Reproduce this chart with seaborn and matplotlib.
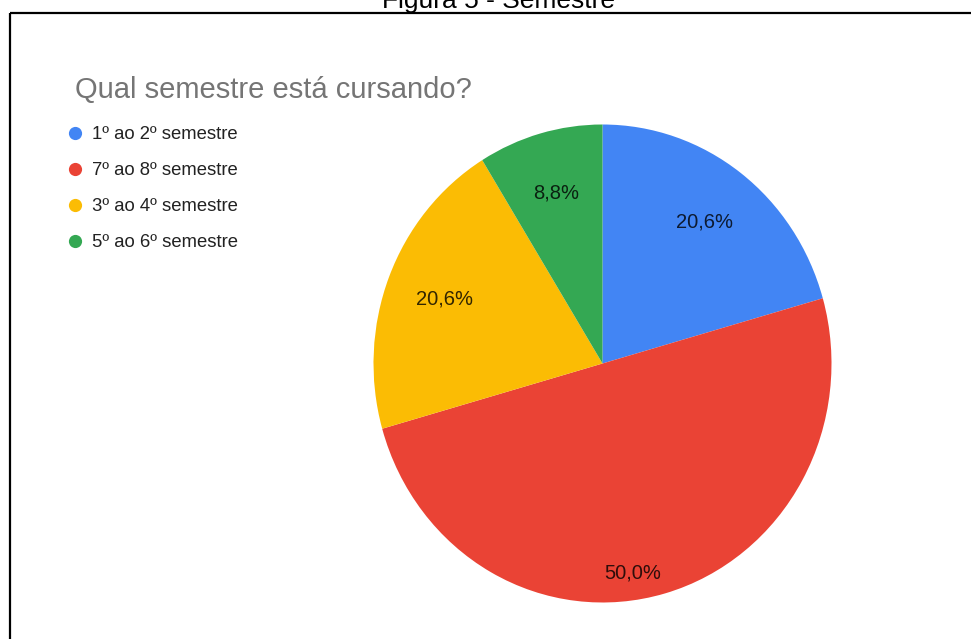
import matplotlib
matplotlib.use("Agg")
import matplotlib.pyplot as plt
from matplotlib.lines import Line2D
import numpy as np
import seaborn as sns

# Survey answers: "Qual semestre está cursando?"
categories = ["1º ao 2º semestre", "7º ao 8º semestre", "3º ao 4º semestre", "5º ao 6º semestre"]
shares = [20.6, 50.0, 20.6, 8.8]
slice_colors = ["#4285F4", "#EA4335", "#FBBC04", "#34A853"]

chart_title = "Qual semestre está cursando?"
caption = "Figura 5 - Semestre"

sns.set_theme(style="white")
plt.rcParams["font.family"] = ["Liberation Sans", "DejaVu Sans"]

W, H = 971, 639
fig = plt.figure(figsize=(W / 100, H / 100), dpi=100)
fig.patch.set_facecolor("white")


def px(x, y):
    """Pixel position (from top-left) to figure fraction."""
    return x / W, 1 - y / H


# frame around the chart (left and top edges)
fig.add_artist(Line2D([10 / W, 10 / W], [0, 1 - 13 / H], transform=fig.transFigure,
                      color="black", lw=1.6, solid_capstyle="butt"))
fig.add_artist(Line2D([10 / W, 1], [1 - 13 / H, 1 - 13 / H], transform=fig.transFigure,
                      color="black", lw=1.6, solid_capstyle="butt"))

# caption above the frame
fig.text(*px(498, 8), caption, ha="center", va="baseline", fontsize=19, color="black")

# pie area
left, right, top, bottom = 373.5, 831.5, 124.5, 602.5
ax = fig.add_axes([left / W, 1 - bottom / H, (right - left) / W, (bottom - top) / H])
palette = sns.color_palette(slice_colors)


def pct_label(p):
    return f"{p:.1f}".replace(".", ",") + "%"


wedges, _, autotexts = ax.pie(
    shares,
    colors=palette,
    startangle=90,
    counterclock=False,
    autopct=pct_label,
    pctdistance=0.74,
    radius=1.0,
    wedgeprops=dict(linewidth=0),
    textprops=dict(fontsize=14.5, color="black", alpha=0.8),
)
ax.set_aspect("auto")
ax.set_xlim(-1, 1)
ax.set_ylim(-1, 1)
ax.axis("off")

# the large slice's label sits lower, near the rim
big = int(np.argmax(shares))
ang = np.deg2rad(-81.5)
autotexts[big].set_position((0.885 * np.cos(ang), 0.885 * np.sin(ang)))

# chart title and legend
fig.text(*px(75, 98), chart_title, ha="left", va="baseline", fontsize=21, color="#757575")

handles = [Line2D([0], [0], marker="o", linestyle="", markersize=9.5,
                  markerfacecolor=c, markeredgewidth=0) for c in slice_colors]
leg = fig.legend(
    handles, categories,
    loc="upper left",
    bbox_to_anchor=px(66, 126),
    frameon=False,
    fontsize=13.3,
    handlelength=0.95,
    handletextpad=0.45,
    labelspacing=1.03,
    borderpad=0,
    borderaxespad=0,
)
for t in leg.get_texts():
    t.set_color("#222222")

fig.savefig("out.png", dpi=100, facecolor="white")
